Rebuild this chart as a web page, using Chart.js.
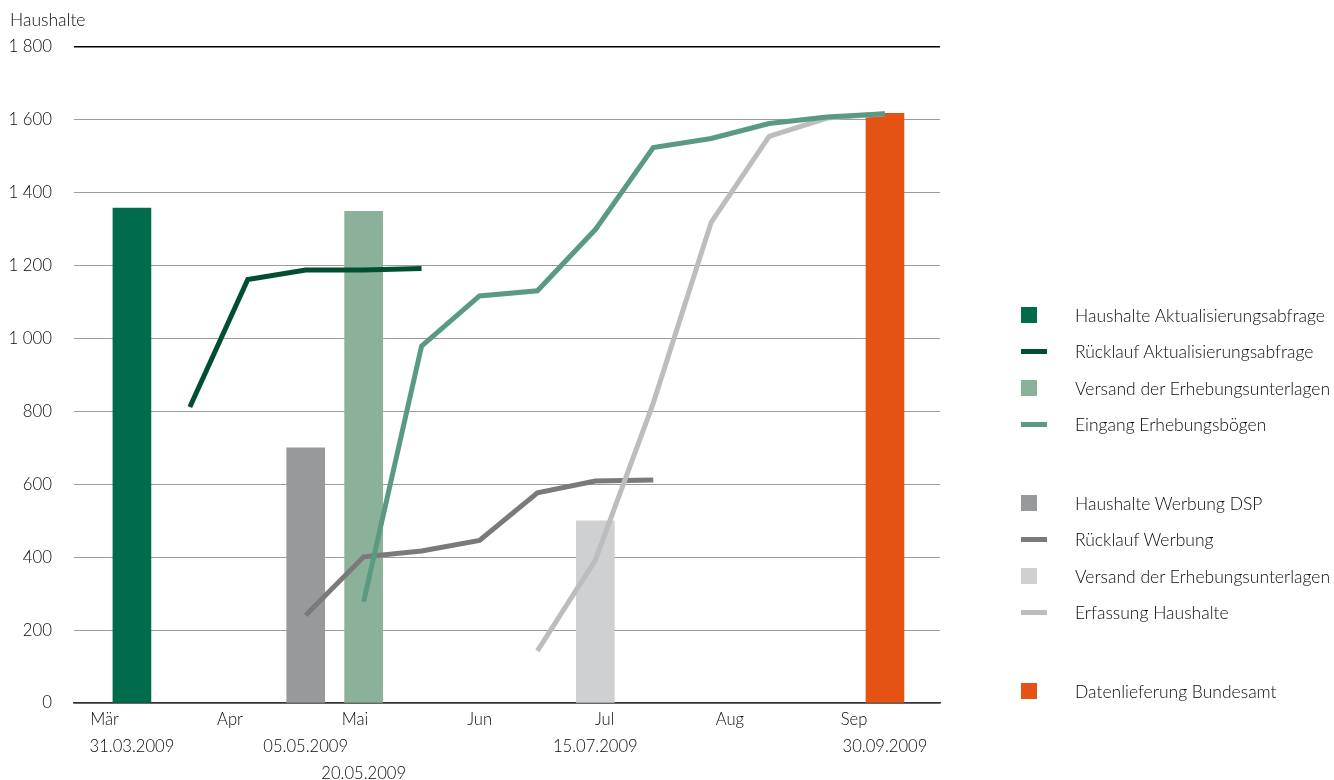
<!DOCTYPE html>
<html lang="de">
<head>
<meta charset="utf-8">
<title>Haushalte</title>
<script src="https://cdn.jsdelivr.net/npm/chart.js@4.4.1/dist/chart.umd.min.js"></script>
<style>
  html, body { margin: 0; padding: 0; background: #fff; }
  #wrap { position: relative; width: 1334px; height: 780px; }
  #legend { position: absolute; left: 1021px; top: 297px; font-family: Lato, sans-serif; font-weight: 300; font-size: 17.5px; color: #0a0a0a; }
  .row { display: flex; align-items: center; height: 36.5px; white-space: nowrap; }
  .group + .group { margin-top: 42px; }
  .mark { width: 16px; height: 16px; margin-right: 38px; }
  .mark.line { width: 26px; height: 5px; margin-right: 28px; }
</style>
</head>
<body>
<div id="wrap">
  <canvas id="chart" width="1334" height="780"></canvas>
  <div id="legend"></div>
</div>
<script>
// x positions are half-month slots (1 = 31.03.2009 ... 14 = 30.09.2009)
const months = ['Mär', 'Apr', 'Mai', 'Jun', 'Jul', 'Aug', 'Sep'];
const monthPos = [0.527, 2.693, 4.851, 7.003, 9.161, 11.324, 13.465];
const dateLabels = ['31.03.2009', '05.05.2009', '20.05.2009', '15.07.2009', '30.09.2009'];
const datePos = [1, 4, 5, 9, 14];
const dateLine = [1, 1, 2, 1, 1];

// bars
const barNames = ['Haushalte Aktualisierungsabfrage', 'Versand der Erhebungsunterlagen', 'Haushalte Werbung DSP', 'Versand der Erhebungsunterlagen', 'Datenlieferung Bundesamt'];
const barPos = [1, 5, 4, 9, 14];
const barValues = [1358, 1349, 700, 500, 1618];
const barColors = ['#006c4c', '#8bb19b', '#98999b', '#cfd0d2', '#e55314'];

// lines
const ruecklaufAktPos = [2, 3, 4, 5, 6];
const ruecklaufAkt = [812, 1162, 1188, 1188, 1192];
const eingangPos = [5, 6, 7, 8, 9, 10, 11, 12, 13, 14];
const eingang = [278, 979, 1117, 1131, 1299, 1524, 1549, 1590, 1608, 1617];
const ruecklaufWerbPos = [4, 5, 6, 7, 8, 9, 10];
const ruecklaufWerb = [241, 401, 417, 446, 577, 609, 612];
const erfassungPos = [8, 9, 10, 11, 12, 13, 14];
const erfassung = [143, 392, 823, 1319, 1555, 1605, 1617];

const yTicks = [0, 200, 400, 600, 800, 1000, 1200, 1400, 1600, 1800];

function pts(xs, ys) {
  return xs.map((x, i) => ({ x: x, y: ys[i] }));
}

function fmt(v) {
  return String(v).replace(/\B(?=(\d{3})+(?!\d))/g, ' ');
}

// months on line 1, dates below on line 2 or 3
const xTicks = [];
months.forEach((m, i) => xTicks.push({ value: monthPos[i], lbl: m }));
dateLabels.forEach((d, i) => {
  const lines = [];
  for (let k = 0; k < dateLine[i]; k++) lines.push('');
  lines.push(d);
  xTicks.push({ value: datePos[i], lbl: lines });
});
xTicks.sort((a, b) => a.value - b.value);

Chart.defaults.font.family = 'Lato, sans-serif';
Chart.defaults.font.size = 16.8;
Chart.defaults.font.weight = 300;
Chart.defaults.color = '#0a0a0a';

const lineSets = [
  { label: 'Eingang Erhebungsbögen', data: pts(eingangPos, eingang), color: '#5b9a82', order: 0 },
  { label: 'Erfassung Haushalte', data: pts(erfassungPos, erfassung), color: '#bdbdbd', order: 1 },
  { label: 'Rücklauf Werbung', data: pts(ruecklaufWerbPos, ruecklaufWerb), color: '#7a7a7c', order: 2 },
  { label: 'Rücklauf Aktualisierungsabfrage', data: pts(ruecklaufAktPos, ruecklaufAkt), color: '#004f31', order: 3 }
].map(s => ({
  type: 'line',
  label: s.label,
  data: s.data,
  borderColor: s.color,
  backgroundColor: s.color,
  borderWidth: 5,
  pointRadius: 0,
  tension: 0,
  borderCapStyle: 'butt',
  borderJoinStyle: 'miter',
  order: s.order
}));

const barSets = barNames.map((name, i) => ({
  type: 'bar',
  label: name,
  data: [{ x: barPos[i], y: barValues[i] }],
  backgroundColor: barColors[i],
  barThickness: 38,
  order: 10
}));

new Chart(document.getElementById('chart'), {
  type: 'bar',
  data: { datasets: lineSets.concat(barSets) },
  options: {
    responsive: false,
    animation: false,
    layout: { padding: { left: 10, right: 394, top: 0, bottom: 0 } },
    plugins: {
      legend: { display: false },
      tooltip: { enabled: false },
      title: {
        display: true,
        text: 'Haushalte',
        align: 'start',
        color: '#0a0a0a',
        font: { size: 17.5, weight: 300, lineHeight: 1.2 },
        padding: { top: 10, bottom: 16 }
      }
    },
    scales: {
      x: {
        type: 'linear',
        min: 0,
        max: 14.95,
        offset: false,
        stacked: true,
        grid: { display: false, drawTicks: false, offset: false },
        border: { display: true, color: '#333333', width: 1.5 },
        ticks: {
          autoSkip: false,
          maxRotation: 0,
          minRotation: 0,
          padding: 3,
          font: { size: 16.6, lineHeight: 1.63 },
          callback: (v, i, t) => t[i].lbl
        },
        afterBuildTicks: s => { s.ticks = xTicks.map(t => ({ value: t.value, lbl: t.lbl })); },
        afterFit: s => { s.height = 77; }
      },
      y: {
        type: 'linear',
        min: 0,
        max: 1800,
        stacked: false,
        grid: {
          drawTicks: false,
          color: c => (c.tick && c.tick.value === 1800) ? '#000000' : '#9b9b9b',
          lineWidth: c => (c.tick && c.tick.value === 1800) ? 1.4 : 1
        },
        border: { display: false },
        ticks: { padding: 22, callback: v => fmt(v) },
        afterBuildTicks: s => { s.ticks = yTicks.map(v => ({ value: v })); },
        afterFit: s => { s.width = 64; }
      }
    }
  }
});

// legend in the order of the original, three groups
const legendGroups = [
  [['bar', 0], ['line', 3], ['bar', 1], ['line', 0]],
  [['bar', 2], ['line', 2], ['bar', 3], ['line', 1]],
  [['bar', 4]]
];
const legendEl = document.getElementById('legend');
legendGroups.forEach(group => {
  const g = document.createElement('div');
  g.className = 'group';
  group.forEach(([kind, idx]) => {
    const ds = kind === 'bar' ? barSets[idx] : lineSets[idx];
    const row = document.createElement('div');
    row.className = 'row';
    const mark = document.createElement('span');
    mark.className = kind === 'bar' ? 'mark' : 'mark line';
    mark.style.background = kind === 'bar' ? ds.backgroundColor : ds.borderColor;
    const txt = document.createElement('span');
    txt.textContent = ds.label;
    row.appendChild(mark);
    row.appendChild(txt);
    g.appendChild(row);
  });
  legendEl.appendChild(g);
});
</script>
</body>
</html>
